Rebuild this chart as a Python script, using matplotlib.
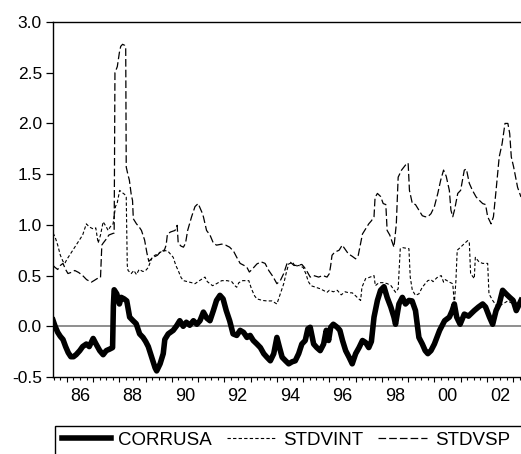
import matplotlib
matplotlib.use("Agg")
import matplotlib.pyplot as plt
from matplotlib.patches import Rectangle
from matplotlib.ticker import FixedLocator

plt.rcParams['font.family'] = ['Liberation Sans', 'DejaVu Sans']
plt.rcParams['lines.scale_dashes'] = False

# CORRUSA (thick solid)
corr_t = [1985.47, 1985.55, 1985.65, 1985.75, 1985.85, 1985.95, 1986.05, 1986.15, 1986.25, 1986.35,
          1986.49, 1986.6, 1986.74, 1986.85, 1987.0, 1987.1, 1987.25, 1987.38, 1987.5, 1987.63,
          1987.74, 1987.77, 1987.80, 1987.9, 1988.0, 1988.07, 1988.18, 1988.28, 1988.39, 1988.52,
          1988.64, 1988.77, 1988.9, 1989.0, 1989.1, 1989.23, 1989.36, 1989.42, 1989.55, 1989.67,
          1989.73, 1989.86, 1990.05, 1990.18, 1990.3, 1990.43, 1990.55, 1990.68, 1990.82, 1990.95,
          1991.07, 1991.2, 1991.33, 1991.45, 1991.58, 1991.7, 1991.83, 1991.95, 1992.07, 1992.2,
          1992.33, 1992.47, 1992.6, 1992.73, 1992.86, 1992.98, 1993.1, 1993.24, 1993.37, 1993.5,
          1993.62, 1993.75, 1993.88, 1994.0, 1994.1, 1994.2, 1994.33, 1994.45, 1994.58, 1994.7,
          1994.83, 1994.95, 1995.08, 1995.18, 1995.27, 1995.4, 1995.52, 1995.65, 1995.78, 1995.88,
          1995.97, 1996.05, 1996.15, 1996.3, 1996.4, 1996.5, 1996.62, 1996.75, 1996.87, 1997.0,
          1997.13, 1997.26, 1997.38, 1997.5, 1997.6, 1997.7, 1997.83, 1997.95, 1998.08, 1998.2,
          1998.34, 1998.46, 1998.52, 1998.65, 1998.78, 1998.9, 1999.03, 1999.15, 1999.28, 1999.41,
          1999.54, 1999.65, 1999.75, 1999.87, 2000.0, 2000.2, 2000.39, 2000.57, 2000.68, 2000.76,
          2000.85, 2000.98, 2001.14, 2001.3, 2001.52, 2001.68, 2001.84, 2001.95, 2002.1, 2002.22,
          2002.35, 2002.47, 2002.6, 2002.73, 2002.87, 2003.0, 2003.12, 2003.3]
corr_v = [0.06, 0.0, -0.06, -0.10, -0.13, -0.20, -0.26, -0.30, -0.30, -0.28,
          -0.24, -0.20, -0.175, -0.20, -0.12, -0.17, -0.24, -0.28, -0.24, -0.225,
          -0.21, 0.20, 0.36, 0.32, 0.22, 0.285, 0.27, 0.25, 0.09, 0.055,
          0.025, -0.075, -0.11, -0.15, -0.20, -0.305, -0.41, -0.44, -0.37, -0.27,
          -0.13, -0.075, -0.04, 0.005, 0.055, 0.0, 0.04, 0.01, 0.055, 0.02,
          0.055, 0.14, 0.08, 0.055, 0.155, 0.255, 0.305, 0.27, 0.155, 0.055,
          -0.075, -0.09, -0.04, -0.06, -0.11, -0.09, -0.14, -0.175, -0.21, -0.27,
          -0.305, -0.34, -0.27, -0.11, -0.21, -0.305, -0.34, -0.37, -0.35, -0.34,
          -0.27, -0.175, -0.14, -0.025, -0.01, -0.175, -0.21, -0.24, -0.175, -0.04,
          -0.14, -0.01, 0.02, -0.01, -0.04, -0.14, -0.24, -0.305, -0.37, -0.27,
          -0.21, -0.14, -0.16, -0.21, -0.15, 0.09, 0.255, 0.355, 0.39, 0.285,
          0.19, 0.09, 0.02, 0.22, 0.285, 0.22, 0.255, 0.25, 0.155, -0.11,
          -0.175, -0.24, -0.27, -0.24, -0.175, -0.04, 0.055, 0.09, 0.155, 0.22,
          0.09, 0.02, 0.12, 0.10, 0.155, 0.19, 0.22, 0.19, 0.09, 0.02,
          0.155, 0.22, 0.355, 0.32, 0.285, 0.255, 0.155, 0.255]

# STDVINT (fine dashes)
int_t = [1985.47, 1985.55, 1985.65, 1985.75, 1985.85, 1985.92, 1986.0, 1986.1, 1986.23, 1986.35,
         1986.5, 1986.6, 1986.74, 1986.85, 1987.0, 1987.1, 1987.19, 1987.28, 1987.38, 1987.5,
         1987.57, 1987.65, 1987.76, 1987.85, 1987.92, 1988.01, 1988.1, 1988.2, 1988.26, 1988.30,
         1988.33, 1988.45, 1988.55, 1988.65, 1988.75, 1988.9, 1989.0, 1989.1, 1989.23, 1989.35,
         1989.48, 1989.67, 1989.85, 1990.05, 1990.15, 1990.24, 1990.35, 1990.44, 1990.6, 1990.75,
         1990.88, 1991.05, 1991.26, 1991.35, 1991.45, 1991.55, 1991.7, 1991.9, 1992.1, 1992.28,
         1992.4, 1992.47, 1992.55, 1992.7, 1992.93, 1993.03, 1993.15, 1993.24, 1993.45, 1993.62,
         1993.81, 1994.0, 1994.13, 1994.26, 1994.35, 1994.45, 1994.6, 1994.7, 1994.83, 1995.0,
         1995.1, 1995.2, 1995.3, 1995.47, 1995.65, 1995.8, 1995.91, 1996.0, 1996.15, 1996.3,
         1996.45, 1996.6, 1996.75, 1996.87, 1997.0, 1997.12, 1997.19, 1997.24, 1997.38, 1997.5,
         1997.7, 1997.75, 1997.89, 1998.05, 1998.21, 1998.35, 1998.52, 1998.62, 1998.7, 1998.8,
         1999.03, 1999.08, 1999.16, 1999.28, 1999.41, 1999.54, 1999.65, 1999.75, 1999.87, 1999.95,
         2000.1, 2000.26, 2000.35, 2000.42, 2000.57, 2000.7, 2000.76, 2000.82, 2000.87, 2001.0,
         2001.14, 2001.27, 2001.33, 2001.38, 2001.52, 2001.56, 2001.7, 2001.84, 2002.03, 2002.08,
         2002.22, 2002.4, 2002.6, 2002.8, 2003.0, 2003.3]
int_v = [0.92, 0.88, 0.80, 0.70, 0.64, 0.62, 0.66, 0.70, 0.75, 0.80,
         0.86, 0.90, 1.01, 0.98, 0.96, 0.97, 0.82, 0.90, 1.03, 0.98,
         0.945, 0.98, 1.01, 1.18, 1.22, 1.34, 1.32, 1.30, 1.275, 0.60,
         0.55, 0.52, 0.55, 0.51, 0.56, 0.54, 0.55, 0.58, 0.67, 0.70,
         0.715, 0.75, 0.74, 0.68, 0.60, 0.55, 0.48, 0.45, 0.44, 0.43,
         0.42, 0.45, 0.485, 0.44, 0.42, 0.40, 0.42, 0.45, 0.45, 0.44,
         0.40, 0.385, 0.43, 0.45, 0.45, 0.37, 0.30, 0.27, 0.255, 0.25,
         0.25, 0.22, 0.32, 0.42, 0.52, 0.615, 0.63, 0.59, 0.60, 0.58,
         0.52, 0.44, 0.40, 0.385, 0.37, 0.35, 0.335, 0.355, 0.34, 0.355,
         0.31, 0.34, 0.33, 0.33, 0.30, 0.27, 0.255, 0.385, 0.47, 0.48,
         0.50, 0.40, 0.43, 0.43, 0.42, 0.40, 0.335, 0.37, 0.765, 0.775,
         0.765, 0.485, 0.355, 0.305, 0.32, 0.385, 0.42, 0.45, 0.46, 0.44,
         0.48, 0.50, 0.435, 0.46, 0.435, 0.42, 0.22, 0.45, 0.75, 0.78,
         0.815, 0.845, 0.83, 0.52, 0.47, 0.68, 0.635, 0.62, 0.62, 0.32,
         0.255, 0.19, 0.22, 0.25, 0.22, 0.24]

# STDVSP (long dashes)
sp_t = [1985.47, 1985.55, 1985.65, 1985.75, 1985.85, 1985.95, 1986.04, 1986.15, 1986.3, 1986.45,
        1986.6, 1986.75, 1986.93, 1987.03, 1987.15, 1987.28, 1987.33, 1987.38, 1987.5, 1987.6,
        1987.75, 1987.80, 1987.83, 1987.92, 1988.0, 1988.05, 1988.12, 1988.2, 1988.24, 1988.26,
        1988.32, 1988.38, 1988.45, 1988.50, 1988.53, 1988.65, 1988.75, 1988.84, 1988.96, 1989.05,
        1989.12, 1989.2, 1989.29, 1989.45, 1989.61, 1989.7, 1989.78, 1989.83, 1989.95, 1990.12,
        1990.2, 1990.24, 1990.35, 1990.44, 1990.52, 1990.6, 1990.75, 1990.88, 1991.0, 1991.05,
        1991.15, 1991.2, 1991.32, 1991.45, 1991.58, 1991.7, 1991.9, 1992.05, 1992.2, 1992.35,
        1992.47, 1992.6, 1992.75, 1992.86, 1992.95, 1993.05, 1993.24, 1993.4, 1993.55, 1993.69,
        1993.85, 1994.0, 1994.13, 1994.26, 1994.38, 1994.52, 1994.65, 1994.8, 1994.95, 1995.05,
        1995.15, 1995.27, 1995.4, 1995.59, 1995.75, 1995.91, 1996.0, 1996.05, 1996.1, 1996.2,
        1996.37, 1996.49, 1996.6, 1996.72, 1996.87, 1997.0, 1997.1, 1997.26, 1997.38, 1997.5,
        1997.6, 1997.7, 1997.74, 1997.83, 1997.95, 1998.05, 1998.15, 1998.2, 1998.3, 1998.46,
        1998.55, 1998.62, 1998.75, 1998.9, 1999.0, 1999.05, 1999.16, 1999.28, 1999.41, 1999.54,
        1999.65, 1999.75, 1999.87, 2000.0, 2000.13, 2000.24, 2000.35, 2000.45, 2000.57, 2000.63,
        2000.7, 2000.77, 2000.89, 2001.0, 2001.14, 2001.22, 2001.33, 2001.45, 2001.59, 2001.72,
        2001.84, 2001.95, 2002.03, 2002.16, 2002.25, 2002.35, 2002.47, 2002.58, 2002.69, 2002.8,
        2002.87, 2002.93, 2003.02, 2003.17, 2003.3]
sp_v = [0.60, 0.58, 0.56, 0.60, 0.62, 0.56, 0.52, 0.53, 0.55, 0.53,
        0.50, 0.46, 0.435, 0.45, 0.47, 0.48, 0.80, 0.82, 0.86, 0.90,
        0.915, 0.92, 2.50, 2.56, 2.70, 2.76, 2.78, 2.77, 2.75, 1.57,
        1.50, 1.44, 1.30, 1.24, 1.06, 1.01, 0.98, 0.945, 0.85, 0.72,
        0.64, 0.66, 0.68, 0.70, 0.75, 0.74, 0.80, 0.91, 0.93, 0.945,
        0.995, 0.82, 0.79, 0.78, 0.82, 0.945, 1.08, 1.18, 1.21, 1.18,
        1.12, 1.08, 0.945, 0.90, 0.82, 0.80, 0.81, 0.80, 0.78, 0.74,
        0.68, 0.62, 0.60, 0.58, 0.535, 0.56, 0.615, 0.635, 0.62, 0.55,
        0.49, 0.42, 0.45, 0.52, 0.615, 0.63, 0.60, 0.60, 0.61, 0.58,
        0.54, 0.485, 0.50, 0.485, 0.50, 0.485, 0.52, 0.60, 0.70, 0.73,
        0.75, 0.80, 0.76, 0.715, 0.69, 0.665, 0.70, 0.91, 0.96, 1.01,
        1.04, 1.08, 1.27, 1.31, 1.28, 1.21, 1.20, 0.945, 0.90, 0.78,
        1.01, 1.47, 1.54, 1.59, 1.61, 1.34, 1.21, 1.20, 1.145, 1.09,
        1.08, 1.08, 1.11, 1.18, 1.31, 1.44, 1.54, 1.48, 1.34, 1.145,
        1.08, 1.15, 1.31, 1.34, 1.54, 1.55, 1.41, 1.34, 1.275, 1.24,
        1.21, 1.20, 1.08, 1.01, 1.08, 1.34, 1.67, 1.80, 2.00, 2.00,
        1.90, 1.67, 1.57, 1.37, 1.275]

year_ticks = list(range(1986, 2004))
label_years = [1986, 1988, 1990, 1992, 1994, 1996, 1998, 2000, 2002]
labels = ["86", "88", "90", "92", "94", "96", "98", "00", "02"]

fig = plt.figure(figsize=(5.21, 4.54), dpi=100)
ax = fig.add_axes([53 / 521, 1 - 377 / 454, 468 / 521, 355 / 454])

ax.axhline(0, color="#707070", lw=1.1, zorder=1)
ax.plot(sp_t, sp_v, color="black", lw=0.9, linestyle=(0, (5.5, 2.2)), label="STDVSP", zorder=2)
ax.plot(int_t, int_v, color="black", lw=0.8, linestyle=(0, (2.4, 1.6)), label="STDVINT", zorder=2)
ax.plot(corr_t, corr_v, color="black", lw=4.0, solid_joinstyle="round", label="CORRUSA", zorder=3)

ax.set_xlim(1985.47, 2003.3)
ax.set_ylim(-0.5, 3.0)
ax.set_yticks([-0.5, 0.0, 0.5, 1.0, 1.5, 2.0, 2.5, 3.0])
ax.set_yticklabels(["-0.5", "0.0", "0.5", "1.0", "1.5", "2.0", "2.5", "3.0"])
ax.tick_params(axis="y", direction="out", length=5, width=0.9, pad=3, labelsize=12.5)

ax.xaxis.set_major_locator(FixedLocator(year_ticks))
ax.xaxis.set_minor_locator(FixedLocator([y + q / 4 for y in range(1985, 2004) for q in (1, 2, 3)]))
ax.tick_params(axis="x", which="major", direction="out", length=3.6, width=0.8, labelbottom=False)
ax.tick_params(axis="x", which="minor", direction="out", length=2.2, width=0.8)

sec = ax.secondary_xaxis("bottom")
sec.set_xticks([y + 0.5 for y in label_years])
sec.set_xticklabels(labels)
sec.tick_params(length=0, pad=8, labelsize=13)
sec.spines["bottom"].set_visible(False)

ax.spines["right"].set_visible(False)
for s in ("left", "top", "bottom"):
    ax.spines[s].set_linewidth(1.0)

# legend box, cut by the bottom/right edge as in the original
fig.patches.append(Rectangle((55 / 521, -0.05), 1.0, 1 - 426 / 454 + 0.05,
                             transform=fig.transFigure, fill=False, edgecolor="black", lw=1.0))
h, l = ax.get_legend_handles_labels()
order = [2, 1, 0]
fig.legend([h[i] for i in order], [l[i] for i in order], loc="center left",
           bbox_to_anchor=(62 / 521, 1 - 440 / 454), ncol=3, frameon=False,
           fontsize=13.5, handlelength=2.6, handletextpad=0.4, columnspacing=0.8,
           borderpad=0, borderaxespad=0)

fig.savefig("out.png", dpi=100)
